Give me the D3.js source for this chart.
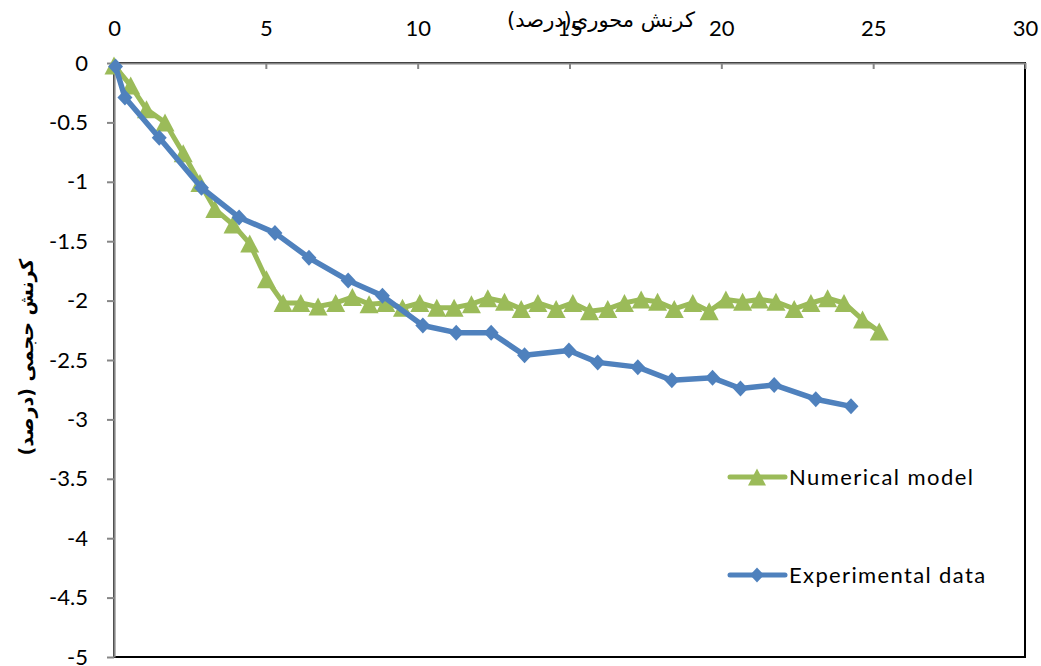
<!DOCTYPE html>
<html><head><meta charset="utf-8">
<script src="https://cdn.jsdelivr.net/npm/d3@7/dist/d3.min.js"></script>
<style>body{margin:0;background:#fff}svg{display:block}</style>
</head><body>
<svg id="c" width="1041" height="666"></svg>
<script>
const xTicks = [0,5,10,15,20,25,30];
const yTicks = [0,-0.5,-1,-1.5,-2,-2.5,-3,-3.5,-4,-4.5,-5];
const xTitle = "کرنش محوری(درصد)";
const yTitle = "کرنش حجمی (درصد)";
const seriesNames = ["Numerical model","Experimental data"];

const numX = [0,0.55,1.07,1.68,2.28,2.83,3.32,3.92,4.47,5.02,5.57,6.15,6.72,7.3,7.85,8.4,8.95,9.5,10.07,10.63,11.2,11.77,12.31,12.86,13.41,13.96,14.56,15.11,15.66,16.26,16.81,17.36,17.9,18.45,19.06,19.6,20.15,20.7,21.25,21.8,22.4,22.95,23.5,24.04,24.65,25.2];
const numY = [-0.02,-0.19,-0.39,-0.5,-0.76,-1.01,-1.23,-1.36,-1.52,-1.82,-2.02,-2.02,-2.05,-2.02,-1.97,-2.03,-2.02,-2.06,-2.02,-2.06,-2.06,-2.03,-1.98,-2.01,-2.07,-2.02,-2.07,-2.02,-2.09,-2.07,-2.02,-1.99,-2.01,-2.07,-2.02,-2.09,-1.99,-2.01,-1.99,-2.01,-2.07,-2.02,-1.98,-2.02,-2.16,-2.26];

const expX = [0.05,0.36,1.49,2.88,4.12,5.3,6.42,7.71,8.84,10.17,11.27,12.42,13.52,14.98,15.93,17.25,18.37,19.71,20.63,21.74,23.11,24.27];
const expY = [-0.03,-0.29,-0.63,-1.05,-1.3,-1.43,-1.64,-1.83,-1.96,-2.21,-2.27,-2.27,-2.46,-2.42,-2.52,-2.56,-2.67,-2.65,-2.74,-2.71,-2.83,-2.89];

const green = "#9BBB59", blue = "#4F81BD";
const svg = d3.select("#c");
const L = 114, R = 1025, T = 63, B = 657;
const x = d3.scaleLinear().domain([0,30]).range([L, R]);
const y = d3.scaleLinear().domain([0,-5]).range([T, B]);
const font = "Lato, 'Open Sans', sans-serif";

svg.append("rect").attr("x",L).attr("y",T).attr("width",R-L).attr("height",B-T)
  .attr("fill","none").attr("stroke","#000").attr("stroke-width",2);

const gx = svg.append("g").attr("transform",`translate(0,${T})`)
  .call(d3.axisTop(x).tickValues(xTicks).tickSizeInner(-6).tickSizeOuter(0).tickPadding(27).tickFormat(d3.format("d")));
const gy = svg.append("g").attr("transform",`translate(${L},0)`)
  .call(d3.axisLeft(y).tickValues(yTicks).tickSizeInner(7).tickSizeOuter(0).tickPadding(19).tickFormat(d=>String(d)));
[gx,gy].forEach(g=>{
  g.select(".domain").attr("stroke","#868686").attr("stroke-width",2.2);
  g.selectAll(".tick line").attr("stroke","#868686").attr("stroke-width",2);
  g.selectAll(".tick text").attr("font-family",font).attr("font-size",22).attr("fill","#000");
});

svg.append("text").attr("x",601).attr("y",27).attr("text-anchor","middle")
  .attr("font-family","'DejaVu Sans', sans-serif").attr("font-size",21).attr("direction","rtl")
  .text(xTitle);
svg.append("text").attr("transform","translate(33,357) rotate(-90)").attr("text-anchor","middle")
  .attr("font-family","'DejaVu Sans', sans-serif").attr("font-size",19).attr("font-weight","bold").attr("direction","rtl")
  .text(yTitle);

const tri = (w,h)=>`M0,${-h/2}L${w/2},${h/2}L${-w/2},${h/2}Z`;
const dia = (w,h)=>`M0,${-h/2}L${w/2},0L0,${h/2}L${-w/2},0Z`;

const numData = numX.map((v,i)=>[v,numY[i]]);
const expData = expX.map((v,i)=>[v,expY[i]]);
const line = d3.line().x(d=>x(d[0])).y(d=>y(d[1]));

svg.append("path").datum(numData).attr("d",line).attr("fill","none").attr("stroke",green).attr("stroke-width",5).attr("stroke-linejoin","round");
svg.selectAll(".tri").data(numData).enter().append("path")
  .attr("transform",d=>`translate(${x(d[0])},${y(d[1])})`).attr("d",tri(19,18)).attr("fill",green);

svg.append("path").datum(expData).attr("d",line).attr("fill","none").attr("stroke",blue).attr("stroke-width",5.5).attr("stroke-linejoin","round");
svg.selectAll(".dia").data(expData).enter().append("path")
  .attr("transform",d=>`translate(${x(d[0])},${y(d[1])})`).attr("d",dia(15,16)).attr("fill",blue);

const leg = [{name:seriesNames[0],c:green,m:tri(18,17),y:477,w:184},{name:seriesNames[1],c:blue,m:dia(14,15),y:575,w:196}];
leg.forEach(l=>{
  svg.append("line").attr("x1",730).attr("x2",785).attr("y1",l.y).attr("y2",l.y).attr("stroke",l.c).attr("stroke-width",5).attr("stroke-linecap","round");
  svg.append("path").attr("transform",`translate(757,${l.y})`).attr("d",l.m).attr("fill",l.c);
  const t = svg.append("text").attr("x",789).attr("y",l.y+8).attr("font-family",font).attr("font-size",22).attr("fill","#000").text(l.name);
  const len = t.node().getComputedTextLength();
  const n = l.name.length;
  if (len > 0) t.attr("letter-spacing", ((l.w - len)/(n-1)).toFixed(2));
});
</script>
</body></html>
